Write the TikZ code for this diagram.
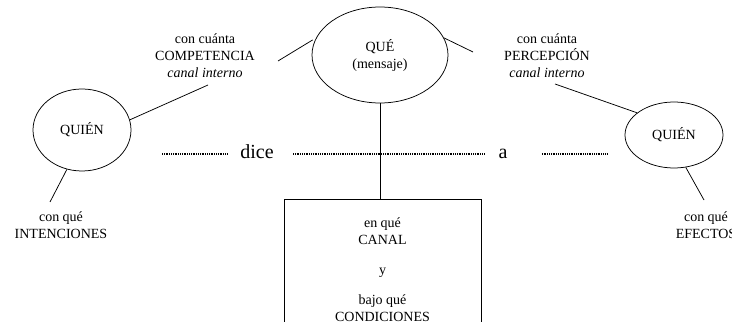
\documentclass[tikz,border=0pt]{standalone}
\usepackage{fontspec}
\setmainfont{Liberation Serif}
\usetikzlibrary{shapes.geometric}

\begin{document}
\begin{tikzpicture}[x=1pt,y=-1pt,line width=0.75pt,
    oval/.style={ellipse, draw, inner sep=0pt, font=\fontsize{14}{17}\selectfont},
    lbl/.style={align=center, inner sep=0pt, font=\fontsize{14}{17}\selectfont},
    verb/.style={inner sep=0pt, anchor=base, font=\fontsize{20}{24}\selectfont},
    dotline/.style={line width=1.8pt, dash pattern=on 1pt off 0.8pt}]
      \useasboundingbox (0,0) rectangle (732,331);
      \node[name=qL, oval, minimum width=98pt, minimum height=82pt] at (82,130){QUIÉN};
      \node[name=que, oval, minimum width=136pt, minimum height=96pt, align=center] at (380,55){QUÉ\\(mensaje)};
      \node[name=qR, oval, minimum width=98pt, minimum height=66pt] at (674,135){QUIÉN};
      \node[name=comp, lbl] at (205,56){con cuánta\\COMPETENCIA\\\textit{canal interno}};
      \node[name=perc, lbl] at (547,56){con cuánta\\PERCEPCIÓN\\\textit{canal interno}};
      \node[name=intenc, lbl] at (61,225){con qué\\INTENCIONES};
      \node[name=efect, lbl] at (706,225){con qué\\EFECTOS};
      \node[name=dice, verb] at (257,159){dice};
      \node[name=a, verb] at (503,159){a};
      \begin{scope}
        \clip (0,0) rectangle (732,322);
        \node[name=canal, lbl, draw, minimum width=197pt, minimum height=142pt] at (382.5,270){en qué\\CANAL\\[13pt]y\\[13pt]bajo qué\\CONDICIONES};
      \end{scope}
      % free ends of the short strokes
      \coordinate (c1) at (278,61);
      \coordinate (c2) at (208,85);
      \coordinate (c3) at (473,52);
      \coordinate (c4) at (555,84);
      \coordinate (c5) at (50,202);
      \coordinate (c6) at (704,200);
      \coordinate (d0) at (162,154);
      \coordinate (d3) at (607,154);
      \draw[shorten <=4pt] (que.165) -- (c1);
      \draw (qL.12) -- (c2);
      \draw (que.15) -- (c3);
      \draw (qR.149) -- (c4);
      \draw (qL.249) -- (c5);
      \draw (qR.290) -- (c6);
      \draw (que.south) -- (que.south |- canal.north);
      % dotted line through dice ... a
      \draw[dotline, shorten >=13pt] (d0) -- (d0 -| dice.west);
      \draw[dotline, shorten <=19pt, shorten >=13pt] (dice.east |- d0) -- (a.west |- d0);
      \draw[dotline, shorten <=34pt] (a.east |- d0) -- (d3);
   \end{tikzpicture}
\end{document}
